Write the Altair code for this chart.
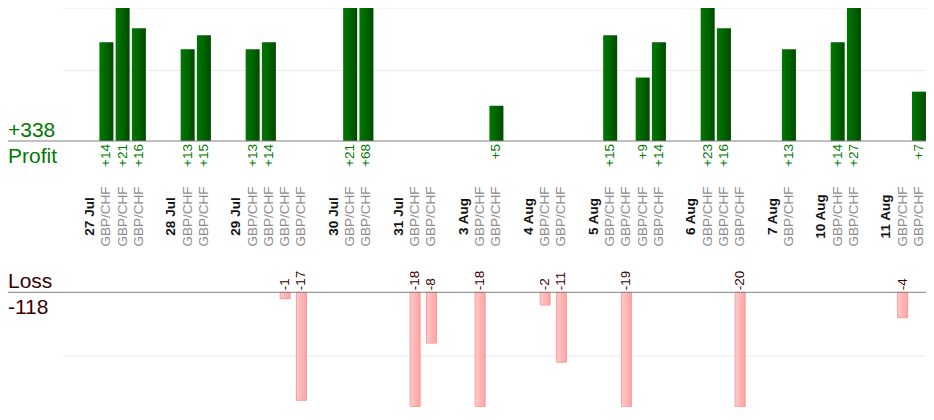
import altair as alt
import pandas as pd

FONT = "Liberation Sans"

# ---- data ----
dates = ["27 Jul", "28 Jul", "29 Jul", "30 Jul", "31 Jul", "3 Aug",
         "4 Aug", "5 Aug", "6 Aug", "7 Aug", "10 Aug", "11 Aug"]
trades = [
    [14, 21, 16],
    [13, 15],
    [13, 14, -1, -17],
    [21, 68],
    [-18, -8],
    [-18, 5],
    [-2, -11],
    [15, -19, 9, 14],
    [23, 16, -20],
    [13],
    [14, 27],
    [-4, 7],
]
pair = "GBP/CHF"
grid_profit = [10, 20]
grid_loss = [-10]

# ---- build slot table ----
rows = []
i = 0
for d, ts in zip(dates, trades):
    rows.append({"i": i, "label": d, "kind": "date", "pnl": 0})
    i += 1
    for t in ts:
        lbl = f"+{t}" if t > 0 else f"{t}"
        rows.append({"i": i, "label": pair, "kind": "trade", "pnl": t, "lbl": lbl})
        i += 1
    i += 1
slots = pd.DataFrame(rows)
prof = slots[(slots.kind == "trade") & (slots.pnl > 0)]
loss = slots[(slots.kind == "trade") & (slots.pnl < 0)]
date_df = slots[slots.kind == "date"]
pair_df = slots[slots.kind == "trade"]

total_profit = int(prof.pnl.sum())
total_loss = int(loss.pnl.sum())

W, H = 918, 399
xs = alt.Scale(domain=[-4.747, 51.127], nice=False, zero=False)
ps = alt.Scale(domain=[-37.73, 18.865], nice=False, zero=False, clamp=True)
ls = alt.Scale(domain=[-18.06, 44.77], nice=False, zero=False, clamp=True)

GREEN_T = "#007a00"
BROWN = "#3a0000"

X = alt.X("i:Q", scale=xs, axis=None)

green_grad = alt.Gradient(
    gradient="linear",
    stops=[alt.GradientStop(color="#007800", offset=0),
           alt.GradientStop(color="#006400", offset=0.5),
           alt.GradientStop(color="#004a00", offset=1)],
    x1=0, x2=1, y1=0, y2=0)
pink_grad = alt.Gradient(
    gradient="linear",
    stops=[alt.GradientStop(color="#ffcaca", offset=0),
           alt.GradientStop(color="#ffa2a2", offset=1)],
    x1=0, x2=1, y1=0, y2=0)

pgrid = alt.Chart(pd.DataFrame({"v": grid_profit})).mark_rule(color="#ebebeb").encode(
    y=alt.Y("v:Q", scale=ps, axis=None), x=alt.value(55), x2=alt.value(W))
lgrid = alt.Chart(pd.DataFrame({"v": grid_loss})).mark_rule(color="#ebebeb").encode(
    y=alt.Y("v:Q", scale=ls, axis=None), x=alt.value(55), x2=alt.value(W))

pbars = alt.Chart(prof).mark_bar(size=14, color=green_grad, orient="vertical").encode(
    x=X, y=alt.Y("pnl:Q", scale=ps, axis=None), y2=alt.Y2Datum(0))
lbars = alt.Chart(loss).mark_bar(size=10, color=pink_grad, stroke="#ff9a9a",
                                 strokeWidth=1, orient="vertical").encode(
    x=X, y=alt.Y("pnl:Q", scale=ls, axis=None), y2=alt.Y2Datum(0))

pbase = alt.Chart(pd.DataFrame({"v": [0]})).mark_rule(color="#808080").encode(
    y=alt.Y("v:Q", scale=ps, axis=None), x=alt.value(0), x2=alt.value(W))
lbase = alt.Chart(pd.DataFrame({"v": [0]})).mark_rule(color="#808080").encode(
    y=alt.Y("v:Q", scale=ls, axis=None), x=alt.value(0), x2=alt.value(W))

plab = alt.Chart(prof).mark_text(angle=270, align="right", baseline="middle", dx=-3,
                                 fontSize=13.5, font=FONT, color=GREEN_T).encode(
    x=X, y=alt.YDatum(0, scale=ps, axis=None), text="lbl:N")
llab = alt.Chart(loss).mark_text(angle=270, align="left", baseline="middle", dx=2,
                                 fontSize=13.5, font=FONT, color=BROWN).encode(
    x=X, y=alt.YDatum(0, scale=ls, axis=None), text="lbl:N")

dlab = alt.Chart(date_df).mark_text(angle=270, align="center", baseline="middle",
                                    fontSize=13.5, font=FONT, fontWeight="bold",
                                    color="#111111").encode(
    x=X, y=alt.value(208.5), text="label:N")
tlab = alt.Chart(pair_df).mark_text(angle=270, align="center", baseline="middle",
                                    fontSize=13.5, font=FONT, color="#8c8c8c").encode(
    x=X, y=alt.value(208.5), text="label:N")

ptitle = alt.Chart(pd.DataFrame({"t": [f"+{total_profit}"]})).mark_text(
    align="left", baseline="alphabetic", dy=-4, fontSize=21, font=FONT, color=GREEN_T).encode(
    x=alt.value(0), y=alt.YDatum(0, scale=ps, axis=None), text="t:N")
pname = alt.Chart(pd.DataFrame({"t": ["Profit"]})).mark_text(
    align="left", baseline="alphabetic", dy=22, fontSize=21, font=FONT, color=GREEN_T).encode(
    x=alt.value(0), y=alt.YDatum(0, scale=ps, axis=None), text="t:N")
lname = alt.Chart(pd.DataFrame({"t": ["Loss"]})).mark_text(
    align="left", baseline="alphabetic", dy=-4.5, fontSize=21, font=FONT, color=BROWN).encode(
    x=alt.value(0), y=alt.YDatum(0, scale=ls, axis=None), text="t:N")
ltitle = alt.Chart(pd.DataFrame({"t": [f"{total_loss}"]})).mark_text(
    align="left", baseline="alphabetic", dy=22, fontSize=21, font=FONT, color=BROWN).encode(
    x=alt.value(0), y=alt.YDatum(0, scale=ls, axis=None), text="t:N")

chart = alt.layer(
    pgrid, lgrid, pbars, lbars, pbase, lbase, plab, llab, dlab, tlab,
    ptitle, pname, lname, ltitle
).resolve_scale(y="independent").properties(
    width=W, height=H, autosize=alt.AutoSizeParams(type="none"), padding=0,
    background="white"
).configure_view(strokeWidth=0)

chart.save("out.html", embed_options={"renderer": "svg", "actions": False})
